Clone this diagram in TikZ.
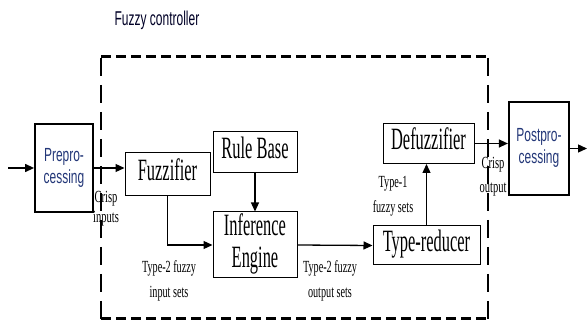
\documentclass[tikz,border=0pt]{standalone}
\usepackage{fontspec}
\setmainfont{Liberation Serif}
\setsansfont{Liberation Sans}
\usetikzlibrary{arrows.meta}
\definecolor{textblau}{RGB}{35,55,120}
\newcommand\quetsch[2]{\scalebox{#1}[1]{\begin{tabular}{@{}c@{}}#2\end{tabular}}}

\begin{document}
\begin{tikzpicture}[x=1pt,y=-1pt,
  block/.style={draw,line width=1pt,inner sep=0pt,align=center,font=\fontsize{31}{32}\selectfont},
  sblock/.style={draw,line width=1.8pt,inner sep=0pt,align=center,text=textblau,font=\sffamily\fontsize{19}{22}\selectfont},
  lbl/.style={inner sep=0pt,align=center,font=\fontsize{17}{25}\selectfont},
  pfeil/.style={line width=1.3pt,-{Triangle[length=9pt,width=8pt]}}]
\useasboundingbox (0,0) rectangle (587,323);

% Rahmen
\node[font=\sffamily\fontsize{20}{24}\selectfont,text=black!85!blue] (titel) at (157,21) {\quetsch{0.6}{Fuzzy controller}};
\draw[line width=3pt,dash pattern=on 10pt off 5pt] (101,57) -- (488,57);
\draw[line width=3pt,dash pattern=on 10pt off 5pt] (101,319) -- (488,319);
\draw[line width=2pt,dash pattern=on 18pt off 9pt] (101,58) -- (101,319);
\draw[line width=2pt,dash pattern=on 18pt off 9pt] (488,58) -- (488,319);

% Bloecke
\node[sblock,minimum width=58pt,minimum height=88pt] (pre) at (64,168) {\quetsch{0.63}{Prepro-\\cessing}};
\node[block,minimum width=85pt,minimum height=43pt] (fuzz) at (167.5,174.5) {\quetsch{0.53}{Fuzzifier}};
\node[block,minimum width=84pt,minimum height=41pt] (rule) at (255,152.5) {\quetsch{0.53}{Rule Base}};
\node[block,minimum width=84pt,minimum height=66pt] (infer) at (255,245) {\quetsch{0.53}{Inference\\Engine}};
\node[block,minimum width=107pt,minimum height=39pt] (tred) at (426.5,245.5) {\quetsch{0.53}{Type-reducer}};
\node[block,minimum width=91pt,minimum height=40pt] (defuzz) at (428.5,143.5) {\quetsch{0.53}{Defuzzifier}};
\node[sblock,minimum width=60pt,minimum height=93pt,line width=2.2pt] (post) at (539,148.5) {\quetsch{0.63}{Postpro-\\cessing}};
\coordinate (ein) at (8,168);
\coordinate (aus) at (587,148.5);

% Pfeile
\draw[pfeil] (ein) -- (pre.west);
\draw[pfeil] (pre.east) -- (pre.east -| fuzz.west);
\draw[pfeil] (rule) -- (infer);
\draw[pfeil] (fuzz.south) |- (infer.west);
\draw[pfeil] (infer.east) -- (tred.west);
\draw[pfeil] (tred) -- (tred |- defuzz.south);
\draw[pfeil] (defuzz.east) -- (defuzz.east -| post.west);
\draw[pfeil] (post.east |- aus) -- (aus);

% Beschriftungen
\node[lbl,font=\fontsize{17}{20}\selectfont] (cin) at (106,209) {\quetsch{0.62}{Crisp\\inputs}};
\node[lbl] (t2in) at (169,280) {\quetsch{0.6}{Type-2 fuzzy\\input sets}};
\node[lbl] (t2out) at (330,280) {\quetsch{0.6}{Type-2 fuzzy\\output sets}};
\node[lbl] (t1) at (393,195) {\quetsch{0.6}{Type-1\\fuzzy sets}};
\node[lbl,font=\fontsize{17}{24}\selectfont] (cout) at (493,176) {\quetsch{0.62}{Crisp\\output}};
\end{tikzpicture}
\end{document}
